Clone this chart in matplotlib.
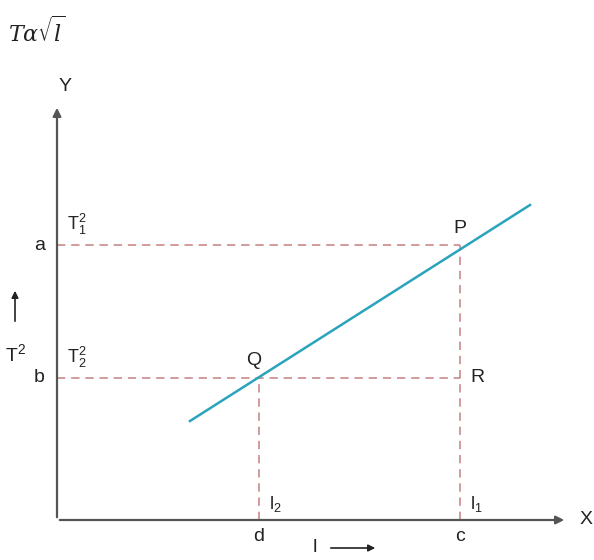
import matplotlib.pyplot as plt

plt.rcParams['font.family'] = ['Liberation Sans', 'DejaVu Sans']
plt.rcParams['mathtext.fontset'] = 'custom'
plt.rcParams['mathtext.rm'] = 'Liberation Sans'
plt.rcParams['mathtext.it'] = 'Liberation Sans'

# données (unités arbitraires, origine au coin des axes)
l_vals = [20.2, 40.3]          # l2 (d), l1 (c)
T2_vals = [14.2, 27.5]         # T2^2 (b), T1^2 (a)
droite_x = [13.3, 47.3]
droite_y = [9.9, 31.5]
x_max, y_max = 51.0, 41.5

fig = plt.figure(figsize=(5.94, 5.6), dpi=100)
ax = fig.add_axes([0, 0, 1, 1])
ax.set_xlim(-5.7, 53.7)
ax.set_ylim(-4.0, 52.0)
ax.axis('off')

gris = '#555555'
rouge = '#c98a8a'
bleu = '#2aa3bd'

# axes avec flèches
ax.annotate('', xy=(x_max, 0), xytext=(0, 0),
            arrowprops=dict(arrowstyle='-|>', color=gris, lw=1.6, mutation_scale=12))
ax.annotate('', xy=(0, y_max), xytext=(0, 0),
            arrowprops=dict(arrowstyle='-|>', color=gris, lw=1.6, mutation_scale=12))
ax.text(52.3, 0, 'X', fontsize=14, va='center', ha='left', color='#222222')
ax.text(0.8, y_max + 1.0, 'Y', fontsize=14, va='bottom', ha='center', color='#222222')

# lignes pointillées
for lv, tv in zip(l_vals, T2_vals):
    ax.plot([0, l_vals[1]], [tv, tv], ls=(0, (5, 3.5)), color=rouge, lw=1.2)
    ax.plot([lv, lv], [0, tv], ls=(0, (5, 3.5)), color=rouge, lw=1.2)

# droite
ax.plot(droite_x, droite_y, color=bleu, lw=1.8)

# étiquettes
ax.text(-1.2, T2_vals[1], 'a', fontsize=14, ha='right', va='center', color='#222222')
ax.text(-1.2, T2_vals[0], 'b', fontsize=14, ha='right', va='center', color='#222222')
ax.text(1.0, T2_vals[1] + 0.8, r'$\mathrm{T}_1^2$', fontsize=13, ha='left', va='bottom', color='#222222')
ax.text(1.0, T2_vals[0] + 0.8, r'$\mathrm{T}_2^2$', fontsize=13, ha='left', va='bottom', color='#222222')
ax.text(l_vals[0], -0.8, 'd', fontsize=14, ha='center', va='top', color='#222222')
ax.text(l_vals[1], -0.8, 'c', fontsize=14, ha='center', va='top', color='#222222')
ax.text(l_vals[0] + 1.0, 0.6, r'$\mathrm{l}_2$', fontsize=13, ha='left', va='bottom', color='#222222')
ax.text(l_vals[1] + 1.0, 0.6, r'$\mathrm{l}_1$', fontsize=13, ha='left', va='bottom', color='#222222')
ax.text(l_vals[1], T2_vals[1] + 0.8, 'P', fontsize=14, ha='center', va='bottom', color='#222222')
ax.text(l_vals[0] - 0.5, T2_vals[0] + 0.9, 'Q', fontsize=14, ha='center', va='bottom', color='#222222')
ax.text(l_vals[1] + 1.0, T2_vals[0], 'R', fontsize=14, ha='left', va='center', color='#222222')

# flèches des grandeurs
ax.text(25.8, -2.8, 'l', fontsize=14, ha='center', va='center', color='#222222')
ax.annotate('', xy=(32.1, -2.8), xytext=(27.1, -2.8),
            arrowprops=dict(arrowstyle='-|>', color='#222222', lw=1.2, mutation_scale=10))
ax.text(-4.2, T2_vals[0] + 2.4, r'$\mathrm{T}^2$', fontsize=14, ha='center', va='center', color='#222222')
ax.annotate('', xy=(-4.2, 23.2), xytext=(-4.2, 19.6),
            arrowprops=dict(arrowstyle='-|>', color='#222222', lw=1.2, mutation_scale=10))

# titre
ax.text(-4.9, 48.8, r'$T\alpha\sqrt{l}$', fontsize=16, ha='left', va='center',
        math_fontfamily='dejavuserif', color='#222222')

fig.savefig('out.png', dpi=100)
